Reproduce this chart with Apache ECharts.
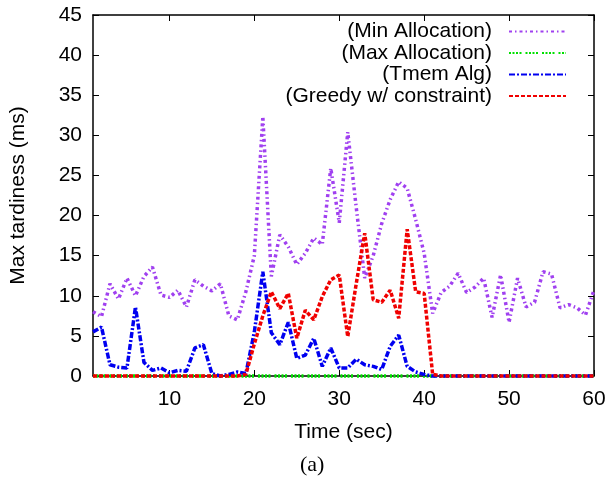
<!DOCTYPE html>
<html>
<head>
<meta charset="utf-8">
<script src="https://cdn.jsdelivr.net/npm/echarts@6/dist/echarts.min.js"></script>
<style>
    html, body { margin: 0; padding: 0; background: #fff; }
    #chart { width: 608px; height: 477px; }
</style>
</head>
<body>
<div id="chart"></div>
<script>
// time in seconds, one sample per second
const times = [
    1, 2, 3, 4, 5, 6, 7, 8, 9, 10, 11, 12, 13, 14, 15, 16, 17, 18, 19, 20,
    21, 22, 23, 24, 25, 26, 27, 28, 29, 30, 31, 32, 33, 34, 35, 36, 37, 38, 39, 40,
    41, 42, 43, 44, 45, 46, 47, 48, 49, 50, 51, 52, 53, 54, 55, 56, 57, 58, 59, 60,
];

const minAlloc = [
    8.0, 7.4, 11.5, 9.6, 12.2, 10.0, 12.4, 13.6, 10.1, 9.8,
    10.7, 8.6, 12.0, 11.2, 10.6, 11.5, 7.5, 7.0, 10.5, 15.0,
    32.3, 12.4, 17.6, 16.1, 13.9, 15.3, 17.2, 16.4, 25.9, 19.1,
    30.4, 21.0, 12.2, 15.0, 19.0, 22.0, 24.2, 23.4, 19.5, 15.3,
    7.8, 10.4, 11.2, 12.8, 10.4, 11.1, 12.2, 7.3, 12.6, 6.7,
    12.2, 8.6, 9.2, 13.0, 12.7, 8.5, 8.9, 8.5, 7.6, 10.7,
];

const maxAlloc = [
    0, 0, 0, 0, 0, 0, 0, 0, 0, 0, 0, 0, 0, 0, 0, 0, 0, 0, 0, 0,
    0, 0, 0, 0, 0, 0, 0, 0, 0, 0, 0, 0, 0, 0, 0, 0, 0, 0, 0, 0,
    0, 0, 0, 0, 0, 0, 0, 0, 0, 0, 0, 0, 0, 0, 0, 0, 0, 0, 0, 0,
];

const tmemAlg = [
    5.5, 6.1, 1.4, 1.1, 1.0, 8.6, 1.7, 0.7, 1.0, 0.4,
    0.7, 0.6, 3.5, 3.9, 0.3, 0, 0.2, 0.5, 0.3, 5.5,
    13.0, 5.4, 3.9, 6.7, 2.2, 2.6, 4.7, 1.2, 3.5, 1.0,
    1.0, 2.1, 1.4, 1.2, 0.8, 3.7, 5.1, 1.2, 0.5, 0.2,
    0, 0, 0, 0, 0, 0, 0, 0, 0, 0,
    0, 0, 0, 0, 0, 0, 0, 0, 0, 0,
];

const greedy = [
    0, 0, 0, 0, 0, 0, 0, 0, 0, 0,
    0, 0, 0, 0, 0, 0, 0, 0, 0.2, 4.0,
    7.5, 10.5, 8.4, 10.3, 4.7, 8.2, 7.0, 9.9, 12.0, 12.6,
    4.9, 11.5, 17.8, 9.5, 9.2, 10.7, 7.2, 18.3, 10.5, 10.3,
    0.2, 0, 0, 0, 0, 0, 0, 0, 0, 0,
    0, 0, 0, 0, 0, 0, 0, 0, 0, 0,
];

const xTicks = [10, 20, 30, 40, 50, 60];

const FONT = "Liberation Sans";

function pairs(values) {
    return times.map((t, i) => [t, values[i]]);
}

function lineSeries(name, values, color, dash) {
    return {
        name: name,
        type: "line",
        data: pairs(values),
        symbol: "none",
        clip: false,
        lineStyle: { color: color, width: 3.5, type: dash },
        itemStyle: { color: color },
    };
}

const chart = echarts.init(document.getElementById("chart"));

const tickStyle = { show: true, inside: true, length: 6, lineStyle: { color: "#000", width: 1 } };
const borderLine = { show: true, onZero: false, lineStyle: { color: "#000", width: 1.5 } };

chart.setOption({
    animation: false,
    textStyle: { fontFamily: FONT },
    grid: { left: 93, right: 14, top: 15, bottom: 101, containLabel: false, outerBoundsMode: "none" },
    legend: {
        orient: "vertical",
        right: 41,
        top: 21,
        padding: 0,
        align: "right",
        itemWidth: 57,
        itemHeight: 14,
        itemGap: 0.5,
        itemStyle: { opacity: 0 },
        textStyle: { fontFamily: FONT, fontSize: 21, lineHeight: 21, color: "#000", padding: [0, 12, 0, 0] },
        data: ["(Min Allocation)", "(Max Allocation)", "(Tmem Alg)", "(Greedy w/ constraint)"],
    },
    xAxis: [
        {
            type: "value",
            min: 1,
            max: 60,
            name: "Time (sec)",
            nameLocation: "middle",
            nameGap: 46,
            nameTextStyle: { fontFamily: FONT, fontSize: 21, color: "#000" },
            axisLine: borderLine,
            axisTick: Object.assign({ customValues: xTicks }, tickStyle),
            axisLabel: { customValues: xTicks, margin: 13, fontFamily: FONT, fontSize: 21, color: "#000" },
            splitLine: { show: false },
        },
        {
            type: "value",
            position: "top",
            min: 1,
            max: 60,
            axisLine: borderLine,
            axisTick: Object.assign({ customValues: xTicks }, tickStyle),
            axisLabel: { show: false },
            splitLine: { show: false },
        },
    ],
    yAxis: [
        {
            type: "value",
            min: 0,
            max: 45,
            interval: 5,
            name: "Max tardiness (ms)",
            nameLocation: "middle",
            nameGap: 64,
            nameTextStyle: { fontFamily: FONT, fontSize: 21, color: "#000" },
            axisLine: borderLine,
            axisTick: tickStyle,
            axisLabel: { margin: 11, fontFamily: FONT, fontSize: 21, color: "#000" },
            splitLine: { show: false },
        },
        {
            type: "value",
            position: "right",
            min: 0,
            max: 45,
            interval: 5,
            axisLine: borderLine,
            axisTick: tickStyle,
            axisLabel: { show: false },
            splitLine: { show: false },
        },
    ],
    graphic: [
        {
            type: "text",
            left: 300,
            top: 454,
            style: { text: "(a)", fontFamily: "Liberation Serif", fontSize: 22, fill: "#000" },
        },
    ],
    series: [
        lineSeries("(Min Allocation)", minAlloc, "#a040f0", [3, 3, 1.5, 3]),
        lineSeries("(Max Allocation)", maxAlloc, "#00e000", [2, 1.5, 2, 1.5, 2, 1.5, 2, 4]),
        lineSeries("(Tmem Alg)", tmemAlg, "#0000f0", [6, 2, 2, 2]),
        lineSeries("(Greedy w/ constraint)", greedy, "#f00000", [4, 2]),
    ],
});
</script>
</body>
</html>
